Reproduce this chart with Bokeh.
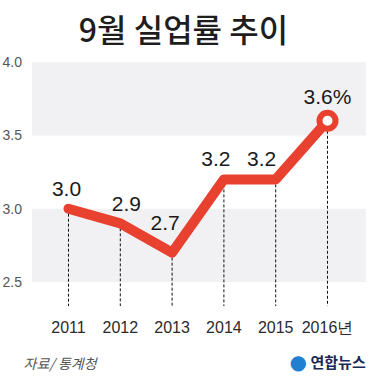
from bokeh.plotting import figure
from bokeh.models import FixedTicker, BoxAnnotation, Label, Range1d, ColumnDataSource
from bokeh.core.properties import value
from bokeh.embed import file_html
from bokeh.resources import INLINE

# ---- data ----
title_text = "9월 실업률 추이"
years = [2011, 2012, 2013, 2014, 2015, 2016]
year_labels = ["2011", "2012", "2013", "2014", "2015", "2016년"]
rates = [3.0, 2.9, 2.7, 3.2, 3.2, 3.6]
rate_labels = ["3.0", "2.9", "2.7", "3.2", "3.2", "3.6%"]
y_ticks = [2.5, 3.0, 3.5, 4.0]
y_tick_labels = ["2.5", "3.0", "3.5", "4.0"]
source_text = "자료/ 통계청"
logo_text = "연합뉴스"

# ---- layout / style ----
RED = "#e8412f"
NUM_FONT = "Liberation Sans, Arial, sans-serif"
KR_FONT = "Noto Sans CJK KR"
TITLE_FONT = "'Noto Sans CJK KR Medium', 'Noto Sans CJK KR', sans-serif"
label_dx = [-2, 6, -7, -8, -14, 0]
label_dy = [-20, -19, -30, -20, -20, -24]

x_lo, x_hi = 2009.6873, 2016.7529
y_lo, y_hi = 1.8618, 4.066
x_axis_at = 2010.2954      # left edge of the plotting bands
y_axis_at = 2.3355         # level of the year axis

p = figure(width=366, height=375, output_backend="svg", toolbar_location=None,
           x_range=Range1d(x_lo, x_hi), y_range=Range1d(y_lo, y_hi),
           min_border_left=0, min_border_right=0, min_border_top=40,
           min_border_bottom=0, outline_line_color=None,
           background_fill_color="white", border_fill_color="white")
p.grid.visible = False

# title
p.title.text = title_text
p.title.text_font = TITLE_FONT
p.title.text_font_size = "32px"
p.title.text_font_style = "normal"
p.title.text_color = "#1e1e1e"
p.title.align = "center"
p.title.standoff = 4

# shaded bands (4.0-3.5 and 3.0-2.5)
for lo, hi in [(y_ticks[2], y_ticks[3]), (y_ticks[0], y_ticks[1])]:
    p.add_layout(BoxAnnotation(left=x_axis_at, bottom=lo, top=hi,
                               fill_color="#f1f1f3", fill_alpha=1.0,
                               line_color=None, level="underlay"))

# axes (placed inside the frame)
p.yaxis.fixed_location = x_axis_at
p.yaxis.ticker = FixedTicker(ticks=y_ticks)
p.yaxis.major_label_overrides = {t: l for t, l in zip(y_ticks, y_tick_labels)}
p.yaxis.axis_line_color = None
p.yaxis.major_tick_line_color = None
p.yaxis.minor_tick_line_color = None
p.yaxis.major_label_text_font = NUM_FONT
p.yaxis.major_label_text_font_size = "14px"
p.yaxis.major_label_text_color = "#555555"
p.yaxis.major_label_standoff = 4

p.xaxis.fixed_location = y_axis_at
p.xaxis.ticker = FixedTicker(ticks=years)
p.xaxis.major_label_overrides = {y: l for y, l in zip(years, year_labels)}
p.xaxis.axis_line_color = None
p.xaxis.major_tick_line_color = None
p.xaxis.minor_tick_line_color = None
p.xaxis.major_label_text_font = NUM_FONT
p.xaxis.major_label_text_font_size = "16px"
p.xaxis.major_label_text_color = "#2a2a2a"
p.xaxis.major_label_standoff = 7

src = ColumnDataSource(dict(x=years, y=rates, lab=rate_labels,
                            dx=label_dx, dy=label_dy,
                            ybot=[y_axis_at] * len(years)))

# dashed drop lines
p.segment(x0="x", y0="y", x1="x", y1="ybot", source=src,
          line_color="#111111", line_width=1, line_dash="3 2")

# main line
p.line(x="x", y="y", source=src, line_color=RED, line_width=10,
       line_join="round", line_cap="round")

# end marker
p.scatter(x=[years[-1]], y=[rates[-1]], size=16, fill_color="white",
          line_color=RED, line_width=6)

# value labels
p.text(x="x", y="y", text="lab", source=src, x_offset="dx", y_offset="dy",
       text_font=value(NUM_FONT), text_font_size="21px", text_color="#1a1a1a",
       text_align="center", text_baseline="middle")

# source + logo (screen units measured from the frame's lower-left corner)
p.add_layout(Label(x=23, y=13, x_units="screen", y_units="screen",
                   text=source_text, text_font=KR_FONT, text_font_size="14px",
                   text_font_style="italic", text_color="#555555",
                   text_baseline="middle"))
p.add_layout(Label(x=289, y=14, x_units="screen", y_units="screen",
                   text="●", text_font="DejaVu Sans", text_font_size="20px",
                   text_color="#1f7fd0", text_baseline="middle"))
p.add_layout(Label(x=310, y=14, x_units="screen", y_units="screen",
                   text=logo_text, text_font=KR_FONT, text_font_size="15px",
                   text_font_style="bold", text_color="#1b2a55",
                   text_baseline="middle"))

open("out.html", "w").write(file_html(p, INLINE))
